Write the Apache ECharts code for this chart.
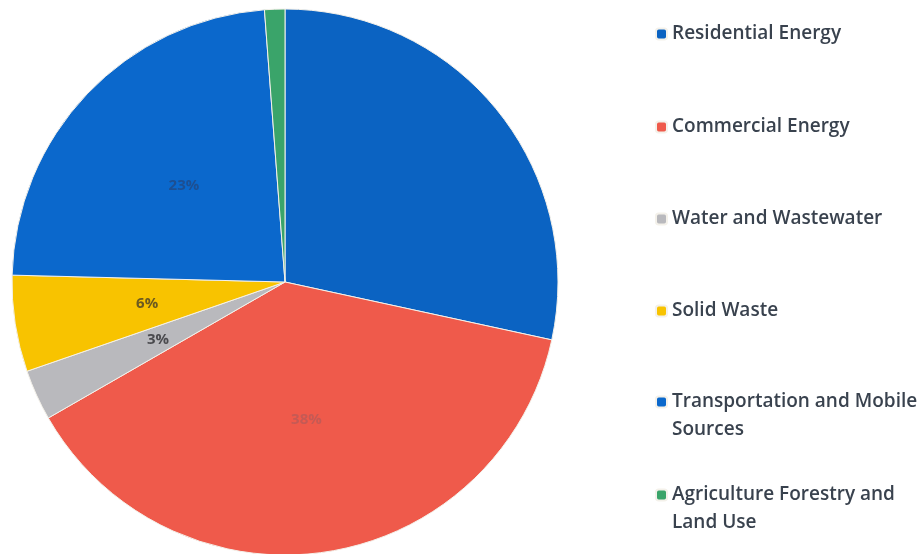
<!DOCTYPE html>
<html>
<head>
<meta charset="utf-8">
<script src="https://cdn.jsdelivr.net/npm/echarts@6/dist/echarts.min.js"></script>
<style>
  html, body { margin: 0; padding: 0; background: #fff; }
  #chart { width: 922px; height: 554px; }
</style>
</head>
<body>
<div id="chart"></div>
<script>
var categories = ['Residential Energy', 'Commercial Energy', 'Water and Wastewater',
    'Solid Waste', 'Transportation and Mobile Sources', 'Agriculture Forestry and Land Use'];
var shares = [28.4, 38.3, 3.0, 5.7, 23.4, 1.2];
// legend text as wrapped in the picture; a leading blank line keeps the marker on the first line
var legendText = ['Residential Energy', 'Commercial Energy', 'Water and Wastewater',
    'Solid Waste', '\nTransportation and Mobile\nSources', '\nAgriculture Forestry and\nLand Use'];
var colors = ['#0b63c2', '#ef5a4b', '#b9b9bd', '#f8c300', '#0b68cc', '#3aa46a'];
// label colours, faint like the scan (residential one is lost in the blue)
var labelColors = ['#0b63c2', '#c45a55', '#4a4a4e', '#6b5a20', '#1d4f92', '#3aa46a'];
var legendTops = [33, 126, 218, 310, 401, 494];

var chart = echarts.init(document.getElementById('chart'));

var pieData = categories.map(function (name, i) {
    return {
        name: name,
        value: shares[i],
        itemStyle: { color: colors[i] },
        label: {
            show: i !== 0 && i !== 5,
            color: labelColors[i]
        }
    };
});

var legends = categories.map(function (name, i) {
    var lines = legendText[i].split('\n').length;
    return {
        data: [name],
        left: 650,
        top: legendTops[i] - 14 * lines - 4,
        orient: 'vertical',
        icon: 'roundRect',
        itemWidth: 11,
        itemHeight: 11,
        selectedMode: false,
        formatter: function () { return legendText[i]; },
        textStyle: {
            fontFamily: 'Open Sans',
            fontSize: 19,
            fontWeight: 600,
            color: '#39424e',
            lineHeight: 28
        }
    };
});

var option = {
    animation: false,
    backgroundColor: '#fff',
    legend: legends,
    series: [{
        type: 'pie',
        center: [285, 282],
        radius: 273,
        startAngle: 90,
        clockwise: true,
        avoidLabelOverlap: false,
        data: pieData,
        label: {
            position: 'inside',
            formatter: function (p) {
                return Math.round(p.value) + '%';
            },
            fontFamily: 'Open Sans',
            fontWeight: 'bold',
            fontSize: 15
        },
        labelLine: { show: false },
        itemStyle: {
            borderColor: '#f4f1ea',
            borderWidth: 1
        },
        emphasis: { disabled: true }
    }]
};
chart.setOption(option);
</script>
</body>
</html>
